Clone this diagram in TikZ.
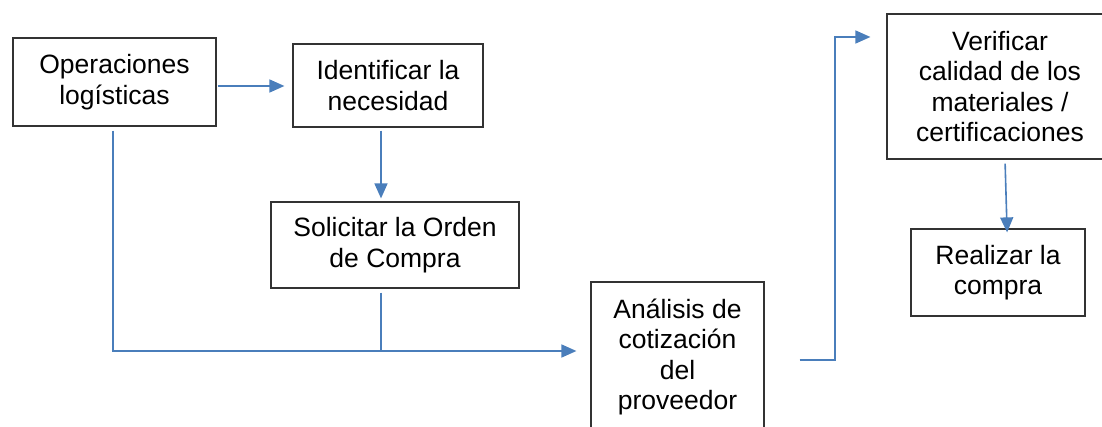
\documentclass[tikz,border=0pt]{standalone}
\usepackage{fontspec}
\setmainfont{Liberation Sans}
\usetikzlibrary{arrows.meta,calc}

\tikzset{
    stepbox/.style={draw=black!80, line width=1.2pt, align=center, inner sep=0pt,
        font=\fontsize{26.5}{30.5}\selectfont},
    flow/.style={draw=linecolor, line width=1.6pt,
        -{Triangle[length=15pt,width=13pt]}},
    joinline/.style={draw=linecolor, line width=1.6pt}
}

\begin{document}
\begin{tikzpicture}[x=1pt, y=-1pt]
    % Define colors
    \definecolor{linecolor}{RGB}{74,126,187} % Word blue

    % Page size
    \useasboundingbox (0,0) rectangle (1102,427);
    \clip (0,0) rectangle (1102,427);

    % Steps
    \node[stepbox, minimum width=203pt, minimum height=88pt] (ops) at (114.5,82) {Operaciones\\log\'isticas};
    \node[stepbox, minimum width=190pt, minimum height=83pt] (ident) at (388,85.5) {Identificar la\\necesidad};
    \node[stepbox, minimum width=248pt, minimum height=86pt] (sol) at (395,245) {Solicitar la Orden\\de Compra};
    \node[stepbox, minimum width=173pt, minimum height=150pt] (ana) at (677.5,357) {An\'alisis de\\cotizaci\'on\\del\\proveedor};
    \node[stepbox, minimum width=226pt, minimum height=145pt] (ver) at (1000,86.5) {Verificar\\calidad de los\\materiales /\\certificaciones};
    \node[stepbox, minimum width=174pt, minimum height=87pt] (real) at (998,272.5) {Realizar la\\compra};

    % Helper points
    \coordinate (merge) at (381,351);
    \coordinate (up) at (835,37);

    % Connectors
    \draw[flow, shorten <=1pt, shorten >=8pt] ([yshift=-4pt]ops.east) -- ([yshift=-4pt]ops.east -| ident.west);
    \draw[flow, shorten <=3pt, shorten >=3pt] ([xshift=-7pt]ident.south) -- ([xshift=-7pt]ident.south |- sol.north);
    \draw[flow, shorten <=4pt, shorten >=14pt] ([xshift=-1.5pt]ops.south) |- (merge) -- (merge -| ana.west);
    \draw[joinline, shorten <=4pt] ([xshift=-14pt]sol.south) -- (merge);
    \draw[flow, shorten >=16pt] ([xshift=35pt,yshift=-3pt]ana.east) -| (up) -- (up -| ver.west);
    \draw[flow, shorten <=4pt, shorten >=-4pt] ([xshift=5pt]ver.south) -- ([xshift=9pt]real.north);
\end{tikzpicture}
\end{document}
